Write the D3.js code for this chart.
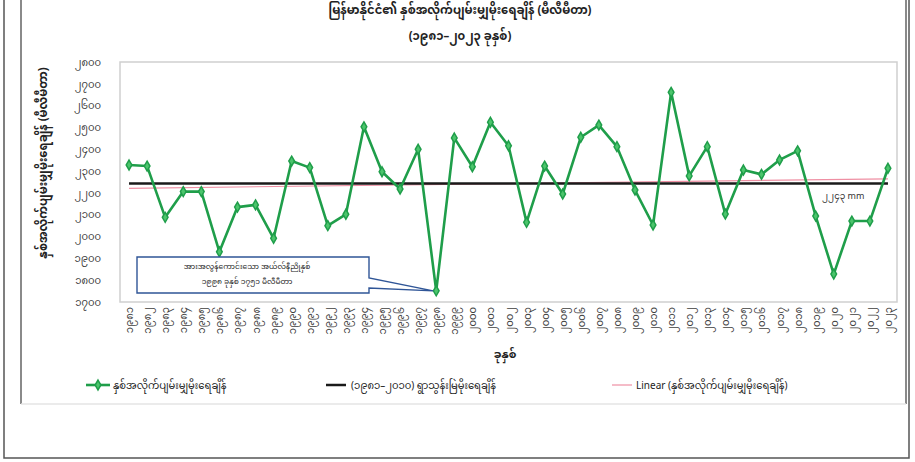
<!DOCTYPE html>
<html>
<head>
<meta charset="utf-8">
<script src="https://cdn.jsdelivr.net/npm/d3@7"></script>
<style>
  html, body { margin: 0; padding: 0; background: #fff; }
  svg { display: block; }
  text { font-family: "Noto Sans Myanmar", "Padauk", "Myanmar Text", "Noto Sans", "DejaVu Sans", sans-serif; }
</style>
</head>
<body>
<svg id="chart" width="915" height="462"></svg>
<script>
// annual mean rainfall (mm), 1981-2023
const years = d3.range(1981, 2024);
const rainfall = [
  2328, 2323, 2088, 2206, 2206, 1930, 2135, 2145, 1992, 2346,
  2316, 2050, 2102, 2503, 2297, 2218, 2400, 1751, 2452, 2320,
  2524, 2416, 2065, 2323, 2195, 2455, 2511, 2412, 2213, 2053,
  2661, 2278, 2412, 2103, 2305, 2285, 2351, 2393, 2094, 1828,
  2071, 2071, 2313
];
const normalValue = 2243;   // 1981-2010 normal
const yTicks = d3.range(1700, 2801, 100);

const titleLines = [
  'မြန်မာနိုင်ငံ၏ နှစ်အလိုက်ပျမ်းမျှမိုးရေချိန် (မီလီမီတာ)',
  '(၁၉၈၁–၂၀၂၃ ခုနှစ်)'
];
const yTitle = 'နှစ်အလိုက်ပျမ်းမျှမိုးရေချိန် (မီလီမီတာ)';
const xTitle = 'ခုနှစ်';
const legendLabels = [
  'နှစ်အလိုက်ပျမ်းမျှမိုးရေချိန်',
  '(၁၉၈၁–၂၀၁၀) ရွာသွန်းမြဲမိုးရေချိန်',
  'Linear (နှစ်အလိုက်ပျမ်းမျှမိုးရေချိန်)'
];
const noteLines = [
  'အားအလွန်ကောင်းသော အယ်လ်နီညိုနှစ်',
  '၁၉၉၈ ခုနှစ် ၁၇၅၁ မီလီမီတာ'
];

// western digits -> Myanmar digits
const mm = v => String(v).replace(/[0-9]/g, d => String.fromCharCode(0x1040 + +d));

const green = '#1f9e4a', greenFill = '#4cc56c';
const svg = d3.select('#chart');

// frames
const frame = svg.append('g').attr('fill', 'none');
frame.append('path').attr('d', 'M4,-2V458H909V-2').attr('stroke', '#555').attr('stroke-width', 1.5);
frame.append('path').attr('d', 'M21,-2V404').attr('stroke', '#8a8a8a').attr('stroke-width', 2);
frame.append('path').attr('d', 'M906,-2V404').attr('stroke', '#8a8a8a').attr('stroke-width', 2);
frame.append('path').attr('d', 'M21,404H906').attr('stroke', '#e4e4e4').attr('stroke-width', 1.5);

// plot area
const plot = {left: 120, right: 897, top: 62, bottom: 302};
svg.append('rect')
  .attr('x', plot.left).attr('y', plot.top)
  .attr('width', plot.right - plot.left).attr('height', plot.bottom - plot.top)
  .attr('fill', '#fff').attr('stroke', '#cfcfcf').attr('stroke-width', 1.5);

const x = d3.scalePoint().domain(years).range([plot.left, plot.right]).padding(0.5);
const y = d3.scaleLinear().domain([1700, 2800]).range([plot.bottom, plot.top]);

// title
svg.append('g').selectAll('text').data(titleLines).join('text')
  .attr('x', 460).attr('y', (d, i) => 14 + i * 26)
  .attr('text-anchor', 'middle')
  .attr('font-size', 11.5).attr('font-weight', 'bold').attr('fill', '#222')
  .text(d => d);

// y axis
const yAxis = svg.append('g')
  .attr('transform', `translate(${plot.left - 16},0)`)
  .call(d3.axisLeft(y).tickValues(yTicks).tickSize(0).tickFormat(mm));
yAxis.select('.domain').remove();
yAxis.selectAll('text').attr('font-size', 10).attr('fill', '#404040')
  .style('font-family', null);

svg.append('text')
  .attr('transform', 'translate(47,163) rotate(-90)')
  .attr('text-anchor', 'middle')
  .attr('font-size', 11.5).attr('font-weight', 'bold').attr('fill', '#222')
  .text(yTitle);

// x axis, labels read bottom to top
const xAxis = svg.append('g')
  .attr('transform', `translate(0,${plot.bottom + 4})`)
  .call(d3.axisBottom(x).tickSize(0).tickFormat(mm));
xAxis.select('.domain').remove();
xAxis.selectAll('text')
  .attr('font-size', 10).attr('fill', '#404040')
  .attr('transform', 'rotate(-90)')
  .attr('x', -1).attr('y', 0).attr('dy', '0.35em')
  .attr('text-anchor', 'end')
  .style('font-family', null);

svg.append('text')
  .attr('x', 505).attr('y', 358)
  .attr('text-anchor', 'middle')
  .attr('font-size', 11).attr('font-weight', 'bold').attr('fill', '#222')
  .text(xTitle);

// linear trend of the yearly series
const n = years.length;
const mx = d3.mean(years), my = d3.mean(rainfall);
const slope = d3.sum(years, (t, i) => (t - mx) * (rainfall[i] - my)) /
  d3.sum(years, t => (t - mx) ** 2);
const trend = t => my + slope * (t - mx);

svg.append('line')
  .attr('x1', x(years[0])).attr('x2', x(years[n - 1]))
  .attr('y1', y(trend(years[0]))).attr('y2', y(trend(years[n - 1])))
  .attr('stroke', '#ef8fa3').attr('stroke-width', 1.2);

// 1981-2010 normal
svg.append('line')
  .attr('x1', x(years[0])).attr('x2', x(years[n - 1]))
  .attr('y1', y(normalValue)).attr('y2', y(normalValue))
  .attr('stroke', '#1a1a1a').attr('stroke-width', 2.5);

svg.append('text')
  .attr('x', 822).attr('y', y(normalValue) + 15)
  .attr('font-size', 9).attr('fill', '#333')
  .text(mm(normalValue) + ' mm');

// yearly series
svg.append('path')
  .datum(rainfall)
  .attr('fill', 'none').attr('stroke', green).attr('stroke-width', 2.6)
  .attr('stroke-linejoin', 'round')
  .attr('d', d3.line().x((d, i) => x(years[i])).y(d => y(d)));

const diamond = d3.symbol().type(d3.symbolDiamond).size(28);
svg.append('g').selectAll('path').data(rainfall).join('path')
  .attr('transform', (d, i) => `translate(${x(years[i])},${y(d)})`)
  .attr('d', diamond)
  .attr('fill', greenFill).attr('stroke', green).attr('stroke-width', 1.5);

// callout for the lowest year
const lowIdx = rainfall.indexOf(d3.min(rainfall));
const tipX = x(years[lowIdx]) - 3, tipY = y(rainfall[lowIdx]);
const bx = 137, by = 257, bw = 232, bh = 36;
svg.append('path')
  .attr('d', `M${bx},${by}H${bx + bw}V${by + 21}L${tipX},${tipY}L${bx + bw},${by + 31}V${by + bh}H${bx}Z`)
  .attr('fill', '#fff').attr('stroke', '#2f5597').attr('stroke-width', 1.4);
svg.append('g').selectAll('text').data(noteLines).join('text')
  .attr('x', bx + bw / 2 - 6).attr('y', (d, i) => by + 12 + i * 15)
  .attr('text-anchor', 'middle')
  .attr('font-size', 7.5).attr('fill', '#222')
  .text(d => d);

// legend
const legend = svg.append('g').attr('transform', 'translate(0,385)');
legend.append('line').attr('x1', 86).attr('x2', 110).attr('y1', 0).attr('y2', 0)
  .attr('stroke', green).attr('stroke-width', 2.6);
legend.append('path').attr('transform', 'translate(98,0)').attr('d', diamond)
  .attr('fill', greenFill).attr('stroke', green).attr('stroke-width', 1.5);
legend.append('line').attr('x1', 326).attr('x2', 346).attr('y1', 0).attr('y2', 0)
  .attr('stroke', '#1a1a1a').attr('stroke-width', 2.5);
legend.append('line').attr('x1', 612).attr('x2', 632).attr('y1', 0).attr('y2', 0)
  .attr('stroke', '#ef8fa3').attr('stroke-width', 1.2);
legend.selectAll('text').data(legendLabels).join('text')
  .attr('x', (d, i) => [113, 351, 636][i]).attr('y', 0).attr('dy', '0.35em')
  .attr('font-size', 10).attr('fill', '#222')
  .text(d => d);
</script>
</body>
</html>
